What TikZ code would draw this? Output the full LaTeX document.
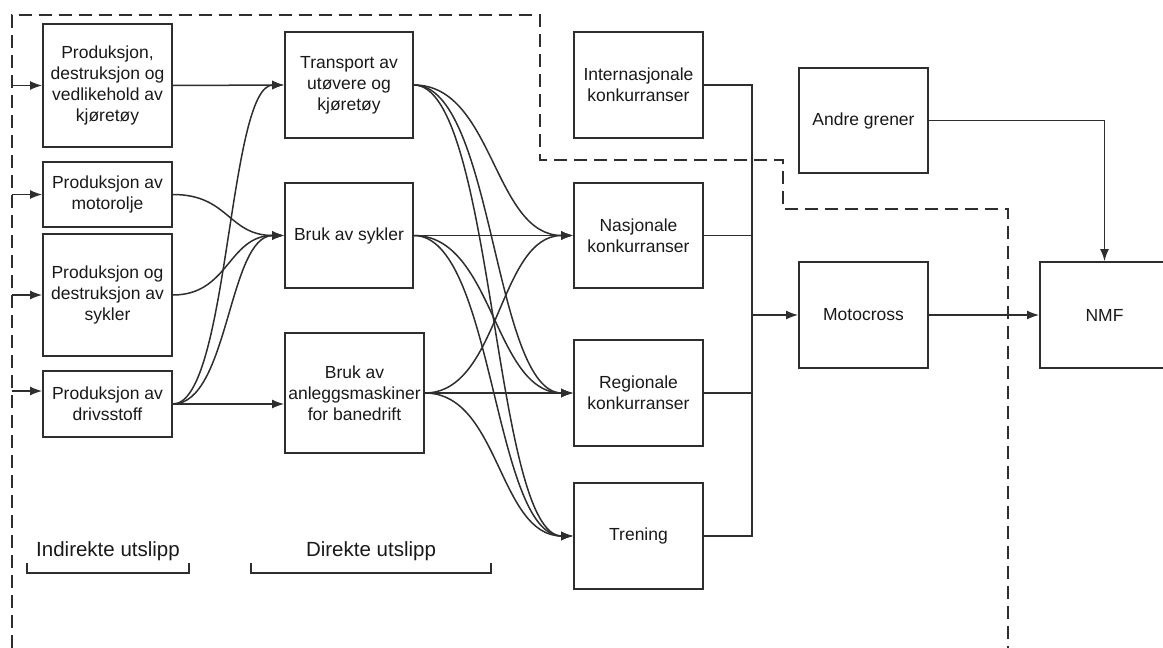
\documentclass[tikz,border=0pt]{standalone}
\usepackage{fontspec}
\setmainfont{Liberation Sans}
\usetikzlibrary{arrows.meta}
\definecolor{strek}{HTML}{2E2E2E}

\begin{document}
\begin{tikzpicture}[x=1pt, y=-1pt,
      every node/.style={font=\fontsize{17.5}{21}\selectfont, text=black!90},
      boks/.style={draw=strek, line width=1.8pt, align=center, inner sep=0pt, minimum width=129pt},
      forbindelse/.style={draw=strek, line width=1.5pt},
      pil/.style={forbindelse, -{Latex[length=12pt,width=9pt]}},
      kurve/.style={to path={.. controls +(#1,0) and +(-#1,0) .. (\tikztotarget)}},
      grense/.style={draw=strek, line width=1.5pt, dash pattern=on 13pt off 7pt},
      etikett/.style={font=\fontsize{20.5}{24}\selectfont}]
  \useasboundingbox (0,0) rectangle (1163,648);

  % indirekte utslipp
  \node[boks, minimum height=123pt] (kjoretoy) at (107.5,85.5) {Produksjon,\\destruksjon og\\vedlikehold av\\kjøretøy};
  \node[boks, minimum height=65pt] (motorolje) at (107.5,194.5) {Produksjon av\\motorolje};
  \node[boks, minimum height=122pt] (sykler) at (107.5,295) {Produksjon og\\destruksjon av\\sykler};
  \node[boks, minimum height=66pt] (drivstoff) at (107.5,404) {Produksjon av\\drivsstoff};

  % direkte utslipp
  \node[boks, minimum width=128pt, minimum height=106pt] (transport) at (349,85) {Transport av\\utøvere og\\kjøretøy};
  \node[boks, minimum width=128pt, minimum height=105pt] (bruksykler) at (349,235.5) {Bruk av sykler};
  \node[boks, minimum width=139pt, minimum height=120pt] (maskiner) at (354.5,393) {Bruk av\\anleggsmaskiner\\for banedrift};

  % aktiviteter
  \node[boks, minimum height=106pt] (internasjonal) at (638.5,85) {Internasjonale\\konkurranser};
  \node[boks, minimum height=105pt] (nasjonal) at (638.5,235.5) {Nasjonale\\konkurranser};
  \node[boks, minimum height=106pt] (regional) at (638.5,393) {Regionale\\konkurranser};
  \node[boks, minimum height=106pt] (trening) at (638.5,536) {Trening};

  \node[boks, minimum height=105pt] (andre) at (863.5,120.5) {Andre grener};
  \node[boks, minimum height=106pt] (motocross) at (863.5,315) {Motocross};
  \node[boks, minimum height=106pt] (nmf) at (1104.5,315) {NMF};

  % inn fra grensen
  \coordinate (inn1) at (12,85.5);
  \coordinate (inn2) at (12,194.5);
  \coordinate (inn3) at (12,295);
  \coordinate (inn4) at (12,391);
  \draw[pil] (inn1) -- (kjoretoy.west);
  \draw[pil] (inn2) -- (motorolje.west);
  \draw[pil] (inn3) -- (sykler.west);
  \draw[pil] (inn4) -- (inn4 -| drivstoff.west);

  \draw[pil] (kjoretoy.east) -- (transport.west);
  \draw[pil] (motorolje.east) to[kurve=56] (bruksykler.west);
  \draw[pil] (sykler.east) to[kurve=56] (bruksykler.west);
  \draw[pil] (drivstoff.east) to[kurve=56] (transport.west);
  \draw[pil] (drivstoff.east) to[kurve=56] (bruksykler.west);
  \draw[pil] (drivstoff.east) -- (drivstoff.east -| maskiner.west);

  \foreach \mal in {nasjonal, regional, trening}
    \draw[pil] (transport.east) to[kurve=80] (\mal.west);
  \draw[pil] (bruksykler.east) -- (nasjonal.west);
  \draw[pil] (bruksykler.east) to[kurve=80] (regional.west);
  \draw[pil] (bruksykler.east) to[kurve=80] (trening.west);
  \draw[pil] (maskiner.east) to[kurve=75] (nasjonal.west);
  \draw[pil] (maskiner.east) -- (regional.west);
  \draw[pil] (maskiner.east) to[kurve=75] (trening.west);

  % samleskinne
  \draw[forbindelse] (internasjonal.east) -- ++(48,0) coordinate (topp) -- (topp |- trening.east) -- (trening.east);
  \draw[forbindelse] (nasjonal.east) -- (nasjonal.east -| topp);
  \draw[forbindelse] (regional.east) -- (regional.east -| topp);
  \draw[pil] (topp |- motocross.west) -- (motocross.west);

  \draw[pil] (andre.east) -| (nmf.north);
  \draw[pil] (motocross.east) -- (nmf.west);

  % systemgrense
  \draw[grense] (12,648) -- (12,15) -- (540,15) -- (540,160) -- (783,160) -- (783,209) -- (1008,209) -- (1008,648);

  \node[etikett] (indirekte) at (108,551) {Indirekte utslipp};
  \node[etikett] (direkte) at (371,551) {Direkte utslipp};
  \draw[forbindelse] (27,563) -- (27,573) -- (189,573) -- (189,563);
  \draw[forbindelse] (251,563) -- (251,573) -- (491,573) -- (491,563);
\end{tikzpicture}
\end{document}
